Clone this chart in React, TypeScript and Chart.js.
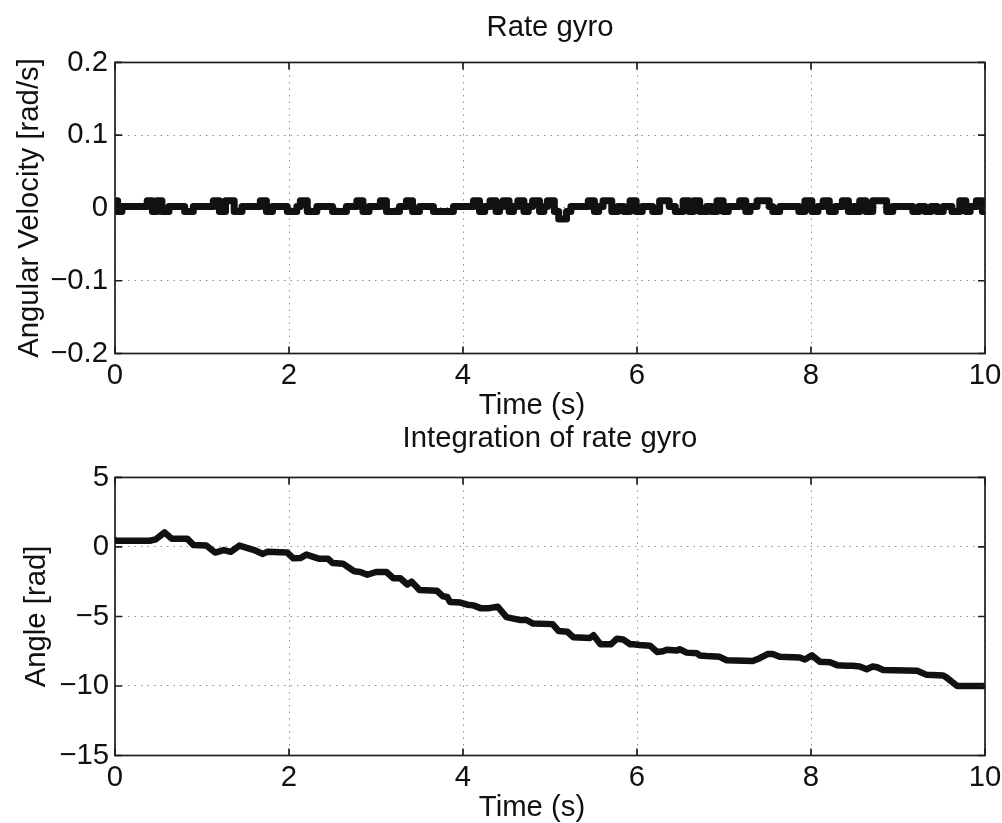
import React, { useEffect, useRef } from 'react';
import { Chart, registerables } from 'chart.js';

Chart.register(...registerables);

// ---------- data ----------
const xTickValues = [0, 2, 4, 6, 8, 10];
const xTickLabels = ['0', '2', '4', '6', '8', '10'];
const xAxisTitle = 'Time (s)';

const rateTickValues = [-0.2, -0.1, 0, 0.1, 0.2];
const rateTickLabels = ['\u22120.2', '\u22120.1', '0', '0.1', '0.2'];

const angleTickValues = [-15, -10, -5, 0, 5];
const angleTickLabels = ['\u221215', '\u221210', '\u22125', '0', '5'];

// rate gyro: change points (time [s]) and the value held from that time on [rad/s]
const rateTimes = [
  0, 0.03, 0.08, 0.37, 0.43, 0.48, 0.54, 0.62, 0.8, 0.9,
  1.13, 1.2, 1.27, 1.37, 1.46, 1.67, 1.74, 1.81, 1.98, 2.09,
  2.13, 2.21, 2.32, 2.5, 2.66, 2.78, 2.85, 2.92, 3.05, 3.12,
  3.27, 3.35, 3.42, 3.5, 3.66, 3.89, 4.12, 4.19, 4.25, 4.31,
  4.38, 4.42, 4.46, 4.53, 4.58, 4.63, 4.7, 4.75, 4.8, 4.88,
  4.93, 4.97, 5.05, 5.1, 5.19, 5.24, 5.44, 5.51, 5.56, 5.61,
  5.71, 5.78, 5.85, 5.92, 5.99, 6.06, 6.18, 6.26, 6.37, 6.44,
  6.53, 6.6, 6.65, 6.72, 6.8, 6.86, 6.92, 6.99, 7.05, 7.18,
  7.25, 7.3, 7.38, 7.52, 7.56, 7.64, 7.86, 7.93, 8.01, 8.08,
  8.14, 8.21, 8.28, 8.36, 8.43, 8.49, 8.52, 8.56, 8.63, 8.71,
  8.87, 8.94, 9.17, 9.24, 9.31, 9.38, 9.45, 9.52, 9.62, 9.71,
  9.78, 9.83, 9.9, 9.97, 10,
];
const rateValues = [
  0.01, -0.005, 0.002, 0.01, -0.005, 0.01, -0.005, 0.002, -0.005, 0.002,
  0.01, -0.005, 0.01, -0.005, 0.002, 0.01, -0.005, 0.002, -0.005, 0.002,
  0.01, -0.005, 0.002, -0.005, 0.002, 0.01, -0.005, 0.002, 0.01, -0.005,
  0.002, 0.01, -0.005, 0.002, -0.005, 0.002, 0.01, -0.005, 0.002, 0.01,
  -0.005, 0.002, 0.01, -0.005, 0.002, 0.01, -0.005, 0.002, 0.01, -0.005,
  0.002, 0.01, -0.005, -0.015, -0.005, 0.002, 0.01, -0.005, 0.002, 0.01,
  -0.005, 0.002, -0.005, 0.01, -0.005, 0.002, -0.005, 0.01, 0.002, -0.005,
  0.01, -0.005, 0.01, -0.005, 0.002, -0.005, 0.01, -0.005, 0.002, 0.01,
  -0.005, 0.002, 0.01, 0.002, -0.005, 0.002, -0.005, 0.01, -0.005, 0.002,
  0.01, -0.005, 0.002, 0.01, -0.005, 0.002, -0.005, 0.01, -0.005, 0.01,
  -0.005, 0.002, -0.005, 0.002, -0.005, 0.002, -0.005, 0.002, -0.005, 0.01,
  -0.005, 0.002, 0.01, -0.005, -0.005,
];

// integrated angle [rad]
const angleTimes = [
  0, 0.02, 0.4, 0.47, 0.57, 0.65, 0.83, 0.9, 1.05, 1.15,
  1.25, 1.33, 1.43, 1.6, 1.7, 1.75, 1.98, 2.05, 2.13, 2.2,
  2.35, 2.45, 2.5, 2.62, 2.75, 2.82, 2.9, 3.0, 3.12, 3.2,
  3.28, 3.36, 3.41, 3.5, 3.7, 3.77, 3.82, 3.85, 3.97, 4.05,
  4.12, 4.2, 4.3, 4.4, 4.5, 4.58, 4.65, 4.73, 4.8, 5.03,
  5.1, 5.2, 5.27, 5.46, 5.5, 5.58, 5.7, 5.77, 5.84, 5.92,
  5.96, 6.03, 6.15, 6.23, 6.3, 6.34, 6.46, 6.49, 6.57, 6.69,
  6.72, 6.8, 6.95, 7.03, 7.33, 7.41, 7.5, 7.56, 7.64, 7.87,
  7.93, 8.01, 8.1, 8.22, 8.3, 8.41, 8.48, 8.56, 8.64, 8.71,
  8.76, 8.83, 9.22, 9.33, 9.52, 9.56, 9.68, 10,
];
const angleValues = [
  0.5, 0.45, 0.45, 0.55, 1.05, 0.6, 0.6, 0.15, 0.1, -0.4,
  -0.22, -0.35, 0.1, -0.22, -0.5, -0.35, -0.4, -0.82, -0.8, -0.55,
  -0.85, -0.85, -1.15, -1.2, -1.75, -1.8, -2.0, -1.8, -1.8, -2.25,
  -2.25, -2.7, -2.5, -3.1, -3.15, -3.55, -3.6, -3.95, -4.0, -4.15,
  -4.2, -4.4, -4.4, -4.3, -5.05, -5.15, -5.25, -5.25, -5.5, -5.55,
  -6.05, -6.1, -6.5, -6.55, -6.35, -7.0, -7.0, -6.6, -6.65, -7.0,
  -7.0, -7.05, -7.1, -7.55, -7.5, -7.4, -7.45, -7.35, -7.6, -7.65,
  -7.8, -7.85, -7.9, -8.15, -8.2, -8.0, -7.7, -7.7, -7.9, -7.95,
  -8.1, -7.8, -8.25, -8.3, -8.5, -8.55, -8.55, -8.6, -8.8, -8.6,
  -8.65, -8.85, -8.9, -9.2, -9.25, -9.4, -10.0, -10.0,
];

// ---------- styling ----------
const FONT_FAMILY = '"Liberation Sans", Arial, Helvetica, sans-serif';
const INK = '#111111';
const FONT_SIZE = 29.3;
const FONT = { family: FONT_FAMILY, size: FONT_SIZE, weight: 'normal' as const, lineHeight: 1.2 };

const matlabBox = {
  id: 'matlabBox',
  afterDatasetsDraw(chart: any) {
    const { ctx, chartArea: a, scales } = chart;
    const xs = scales.x;
    const ys = scales.y;
    const len = 7;
    ctx.save();
    ctx.strokeStyle = '#1e1e1e';
    ctx.lineWidth = 1.7;
    ctx.beginPath();
    xs.ticks.forEach((t: any) => {
      const p = xs.getPixelForValue(t.value);
      ctx.moveTo(p, a.bottom);
      ctx.lineTo(p, a.bottom - len);
      ctx.moveTo(p, a.top);
      ctx.lineTo(p, a.top + len);
    });
    ys.ticks.forEach((t: any) => {
      const p = ys.getPixelForValue(t.value);
      ctx.moveTo(a.left, p);
      ctx.lineTo(a.left + len, p);
      ctx.moveTo(a.right, p);
      ctx.lineTo(a.right - len, p);
    });
    ctx.stroke();
    ctx.strokeRect(a.left, a.top, a.right - a.left, a.bottom - a.top);
    ctx.restore();
  },
};

// x-axis label, placed slightly left of the axes centre as in the source figure
function xLabelPlugin(y: number, dx: number) {
  return {
    id: 'xLabel',
    afterDraw(chart: any) {
      const { ctx, chartArea: a } = chart;
      ctx.save();
      ctx.fillStyle = INK;
      ctx.font = `${FONT_SIZE}px ${FONT_FAMILY}`;
      ctx.textAlign = 'center';
      ctx.textBaseline = 'middle';
      ctx.fillText(xAxisTitle, (a.left + a.right) / 2 + dx, y);
      ctx.restore();
    },
  };
}

interface Cfg {
  title: string;
  yTitle: string;
  times: number[];
  values: number[];
  stepped: boolean;
  lineWidth: number;
  yMin: number;
  yMax: number;
  yTicks: number[];
  yLabels: string[];
  titlePad: { top: number; bottom: number };
  xHeight: number;
  xTickPad: number;
  xTitleY: number;
  yTickPad: number;
  yTitleTop: number;
}

function makeConfig(c: Cfg): any {
  const points = c.times.map((t, i) => ({ x: t, y: c.values[i] }));
  return {
    type: 'line',
    data: {
      datasets: [
        {
          data: points,
          borderColor: INK,
          backgroundColor: INK,
          borderWidth: c.lineWidth,
          stepped: c.stepped,
          tension: 0,
          pointRadius: 0,
          fill: false,
          borderJoinStyle: 'round',
          borderCapStyle: 'round',
        },
      ],
    },
    options: {
      animation: false,
      responsive: false,
      maintainAspectRatio: false,
      events: [],
      layout: { padding: { left: 0, right: 17, top: 0, bottom: 0 } },
      plugins: {
        legend: { display: false },
        tooltip: { enabled: false },
        title: {
          display: true,
          fullSize: false,
          text: c.title,
          color: INK,
          font: FONT,
          padding: c.titlePad,
        },
      },
      scales: {
        x: {
          type: 'linear',
          min: 0,
          max: 10,
          afterBuildTicks: (s: any) => {
            s.ticks = xTickValues.map((v) => ({ value: v }));
          },
          afterFit: (s: any) => {
            s.height = c.xHeight;
            s.paddingLeft = 0;
            s.paddingRight = 0;
          },
          ticks: {
            color: INK,
            font: FONT,
            padding: c.xTickPad,
            maxRotation: 0,
            autoSkip: false,
            callback: (_v: any, i: number) => xTickLabels[i],
          },
          grid: { color: '#909090', lineWidth: 1, drawTicks: false },
          border: { display: false, dash: [1.5, 5] },
          title: { display: false },
        },
        y: {
          type: 'linear',
          min: c.yMin,
          max: c.yMax,
          afterBuildTicks: (s: any) => {
            s.ticks = c.yTicks.map((v) => ({ value: v }));
          },
          afterFit: (s: any) => {
            s.width = 115;
            s.paddingTop = 0;
            s.paddingBottom = 0;
          },
          ticks: {
            color: INK,
            font: FONT,
            padding: c.yTickPad,
            autoSkip: false,
            callback: (_v: any, i: number) => c.yLabels[i],
          },
          grid: { color: '#909090', lineWidth: 1, drawTicks: false },
          border: { display: false, dash: [1.5, 5] },
          title: {
            display: true,
            text: c.yTitle,
            color: INK,
            font: FONT,
            padding: { top: c.yTitleTop, bottom: 0 },
          },
        },
      },
    },
    plugins: [matlabBox, xLabelPlugin(c.xTitleY, -18)],
  };
}

export default function App() {
  const topRef = useRef<HTMLCanvasElement>(null);
  const botRef = useRef<HTMLCanvasElement>(null);

  useEffect(() => {
    const c1 = new Chart(
      topRef.current as HTMLCanvasElement,
      makeConfig({
        title: 'Rate gyro',
        yTitle: 'Angular Velocity [rad/s]',
        times: rateTimes,
        values: rateValues,
        stepped: true,
        lineWidth: 7,
        yMin: -0.2,
        yMax: 0.2,
        yTicks: rateTickValues,
        yLabels: rateTickLabels,
        titlePad: { top: 10.4, bottom: 16.9 },
        xHeight: 71.5,
        xTickPad: 5,
        xTitleY: 405.5,
        yTickPad: 7,
        yTitleTop: 11.9,
      })
    );
    const c2 = new Chart(
      botRef.current as HTMLCanvasElement,
      makeConfig({
        title: 'Integration of rate gyro',
        yTitle: 'Angle [rad]',
        times: angleTimes,
        values: angleValues,
        stepped: false,
        lineWidth: 6.5,
        yMin: -15,
        yMax: 5,
        yTicks: angleTickValues,
        yLabels: angleTickLabels,
        titlePad: { top: 1.4, bottom: 20.9 },
        xHeight: 74.5,
        xTickPad: 5,
        xTitleY: 388,
        yTickPad: 6,
        yTitleTop: 19.4,
      })
    );
    return () => {
      c1.destroy();
      c2.destroy();
    };
  }, []);

  return (
    <div
      style={{
        position: 'fixed',
        left: 0,
        top: 0,
        width: 1002,
        height: 823,
        overflow: 'hidden',
        background: '#ffffff',
      }}
    >
      <canvas
        ref={topRef}
        width={1002}
        height={425}
        style={{ position: 'absolute', left: 0, top: 0, width: 1002, height: 425 }}
      />
      <canvas
        ref={botRef}
        width={1002}
        height={410}
        style={{ position: 'absolute', left: 0, top: 420, width: 1002, height: 410 }}
      />
    </div>
  );
}
